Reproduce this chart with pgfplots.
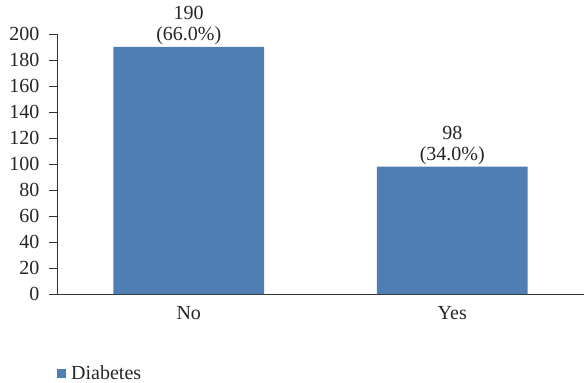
\documentclass[border=0pt]{standalone}
\usepackage{pgfplots}
\pgfplotsset{compat=1.18}
\usepackage{fontspec}
\setmainfont{Liberation Serif}
\definecolor{barblue}{HTML}{4F7EB5}
\begin{document}
\begin{tikzpicture}
\useasboundingbox (-57bp,-89bp) rectangle (527bp,294bp);
\begin{axis}[
  at={(0,0)}, anchor=south west,
  scale only axis, width=527bp, height=260bp,
  xmin=-0.5, xmax=1.5, ymin=0, ymax=200,
  xtick={0,1}, xticklabels={No,Yes},
  ytick={0,20,...,200},
  axis x line*=bottom, axis y line*=left,
  axis line style={black!80, line width=0.8pt},
  tick align=outside, major tick length=8bp,
  xtick style={draw=none},
  ytick style={black!80, line width=0.8pt},
  tick label style={font=\fontsize{20bp}{21bp}\selectfont, text=black!85},
  /pgf/number format/assume math mode=true,
  yticklabel style={xshift=-6bp},
  xticklabel style={yshift=-1bp},
  clip=false,
  legend style={at={(0,-0.304)}, anchor=west, draw=none, fill=none,
    font=\fontsize{20bp}{21bp}\selectfont, text=black!85, inner sep=0pt},
  legend image code/.code={\fill[#1] (0bp,-4.5bp) rectangle (9bp,4.5bp);
    \path (0bp,0bp) -- (12bp,0bp);},
]
\addplot[ybar, bar width=0.573, fill=barblue, draw=none,
  point meta=explicit symbolic,
  nodes near coords,
  nodes near coords style={align=center, anchor=south, inner sep=2bp,
    font=\fontsize{20bp}{21bp}\selectfont, text=black!85}]
  coordinates {(0,190) [190\\(66.0\%)] (1,98) [98\\(34.0\%)]};
\addlegendentry{Diabetes}
\end{axis}
\end{tikzpicture}
\end{document}
